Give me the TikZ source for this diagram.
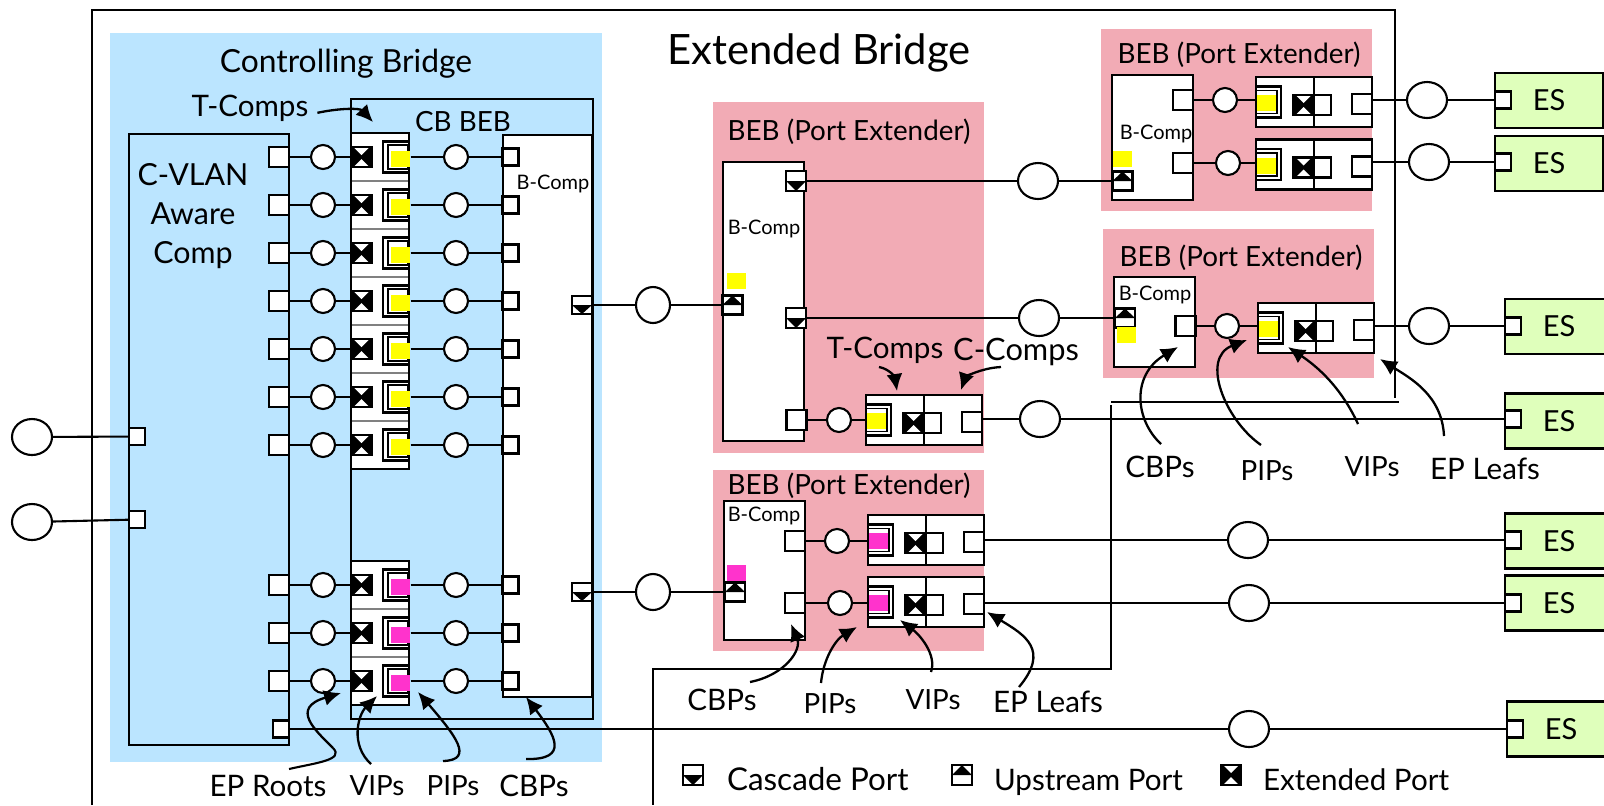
\documentclass[tikz,border=0pt]{standalone}
\usepackage{fontspec}
\setmainfont{Lato}
\usepackage{xcolor}
\usetikzlibrary{shapes,calc,arrows.meta}
\definecolor{cbblue}{HTML}{BBE5FF}
\definecolor{pepink}{HTML}{F2ABB5}
\definecolor{esgreen}{HTML}{DFFFBB}
\definecolor{pipyellow}{HTML}{FFFF00}
\definecolor{pipmag}{HTML}{FF33CC}
\tikzset{
    every path/.style={line width=1.05pt},
    portbox/.style={rectangle,draw,fill=white,minimum width=10pt,minimum height=10pt,inner sep=0pt},
    smallport/.style={portbox,minimum width=8pt,minimum height=8.5pt},
    extport/.style={rectangle,draw,fill=black,minimum width=10pt,minimum height=10pt,inner sep=0pt,
        path picture={\fill[white] ([xshift=1pt]path picture bounding box.north west) -- ([xshift=-1pt]path picture bounding box.north east) -- ([yshift=1pt]path picture bounding box.center) -- cycle;
            \fill[white] ([xshift=1pt]path picture bounding box.south west) -- ([xshift=-1pt]path picture bounding box.south east) -- ([yshift=-1pt]path picture bounding box.center) -- cycle;}},
    casport/.style={portbox,path picture={\fill[black] (path picture bounding box.west) -- (path picture bounding box.east) -- (path picture bounding box.south) -- cycle;}},
    upport/.style={portbox,path picture={\fill[black] (path picture bounding box.west) -- (path picture bounding box.east) -- (path picture bounding box.north) -- cycle;}},
    ring/.style={circle,draw,fill=white,minimum size=12pt,inner sep=0pt},
    bigring/.style={ellipse,draw,fill=white,minimum width=20pt,minimum height=18pt,inner sep=0pt},
    pipmark/.style={rectangle,fill=#1,minimum width=9.5pt,minimum height=8pt,inner sep=0pt},
    esbox/.style={rectangle,draw,fill=esgreen,minimum width=54pt,minimum height=27.5pt,inner sep=0pt,font=\fontsize{14.5}{14.5}\selectfont},
    lbl/.style={inner sep=0pt,yshift=-0.9pt,font=\fontsize{13.9}{13.9}\selectfont},
    lblwide/.style={inner sep=0pt,yshift=-0.9pt,font=\fontsize{14.8}{14.8}\selectfont},
    tinylbl/.style={inner sep=0pt,font=\fontsize{10}{10}\selectfont},
    callout/.style={-{Latex[length=8.5pt,width=8pt]},line width=1.15pt},
}
\begin{document}
\begin{tikzpicture}[x=0.5pt,y=-0.5pt]
    \useasboundingbox (0,0) rectangle (1604,805);

    % Extended Bridge outline
    \draw (92,805) -- (92,10) -- (1395,10) -- (1395,398);
    \draw (1111,402) -- (1399,402);
    \draw[line width=1.4pt] (1111,405) -- (1111,669) -- (653,669) -- (653,805);
    \node[inner sep=0pt,font=\fontsize{20.9}{20.9}\selectfont] (title) at (819,53) {Extended Bridge};

    % Controlling Bridge
    \fill[cbblue] (110,33) rectangle (602,762);
    \node[lbl,font=\fontsize{15.9}{15.9}\selectfont] (cbtitle) at (346,62) {Controlling Bridge};
    \draw[line width=1.3pt] (129,134) rectangle (289,745); % C-VLAN comp
    \draw[line width=1.3pt] (351,99) rectangle (593,719); % CB BEB
    \draw[line width=1.3pt,fill=white] (503,135) rectangle (592,697); % B-Comp
    \node[lbl] (cbbeb) at (463,120) {CB BEB};
    \node[tinylbl] (cbcomp) at (553,184) {B-Comp};
    \node[align=center,inner sep=0pt,font=\fontsize{15.2}{19.7}\selectfont] (cvlan) at (193,216) {C-VLAN\\Aware\\Comp};
    \node[lblwide] (tcomps) at (250,107) {T-Comps};

    % T-Comp rows
    \fill[white] (351,133) rectangle (409,469);
    \fill[white] (351,561) rectangle (409,705);
    \foreach \row in {181,229,277,325,373,421,609,657} {
        \draw[gray,line width=0.9pt] (351,\row) -- (409,\row);
    }
    \draw[line width=1.3pt] (351,133) rectangle (409,469);
    \draw[line width=1.3pt] (351,561) rectangle (409,705);
    \foreach \row/\pip in {157/pipyellow,205/pipyellow,253/pipyellow,301/pipyellow,349/pipyellow,397/pipyellow,445/pipyellow,585/pipmag,633/pipmag,681/pipmag} {
        \node[portbox] (cv\row) at (279,\row) {};
        \node[ring] (rl\row) at (323,\row) {};
        \node[extport] (ext\row) at (361.5,\row) {};
        \node[portbox,minimum width=13pt,minimum height=15.5pt] (vo\row) at (396,\row) {};
        \node[portbox,minimum width=10pt,minimum height=12pt] (vi\row) at (398,\row) {};
        \node[pipmark=\pip] (pip\row) at (400,\row+2) {};
        \node[ring] (rr\row) at (456,\row) {};
        \node[smallport] (cb\row) at (510.5,\row) {};
        \draw (cv\row) -- (rl\row) -- (ext\row);
        \draw (pip\row.east |- rr\row) -- (rr\row) -- (cb\row);
    }

    % CB cascade ports and the ports left of the C-VLAN comp
    \node[casport,minimum height=9pt] (cas1) at (582,305) {};
    \node[casport,minimum height=9pt] (cas2) at (582,592) {};
    \node[smallport] (lp1) at (137,436.5) {};
    \node[smallport] (lp2) at (137,519.5) {};
    \node[bigring] (lr1) at (32,437) {};
    \node[bigring] (lr2) at (32,522) {};
    \draw (lr1) -- (lp1);
    \draw (lr2) -- (lp2);

    % BEB (Port Extender) backgrounds
    \fill[pepink] (1101,29) rectangle (1372,211);
    \fill[pepink] (1103,229) rectangle (1374,378);
    \fill[pepink] (713,102) rectangle (984,453);
    \fill[pepink] (713,470) rectangle (984,651);
    \node[lbl] (beba) at (1239,53) {BEB (Port Extender)};
    \node[lbl] (bebb) at (1241,256) {BEB (Port Extender)};
    \node[lbl] (bebc) at (849,130) {BEB (Port Extender)};
    \node[lbl] (bebd) at (849,484) {BEB (Port Extender)};

    % B-Comps of the port extenders
    \draw[fill=white] (1112,75) rectangle (1193,200);
    \draw[fill=white] (1114,277) rectangle (1195,367);
    \draw[fill=white] (723,162) rectangle (804,441);
    \draw[fill=white] (724,501) rectangle (805,640);
    \node[tinylbl] (bca) at (1156,134) {B-Comp};
    \node[tinylbl] (bcb) at (1155,295) {B-Comp};
    \node[tinylbl] (bcc) at (764,229) {B-Comp};
    \node[tinylbl] (bcd) at (764,516) {B-Comp};

    % T/C boxes
    \foreach \bname/\bx/\by/\pip in {a/1256/102/pipyellow,b/1256/164.5/pipyellow,c/1258/328/pipyellow,d/866/420/pipyellow,e/868/540/pipmag,f/868/602/pipmag} {
        \draw[fill=white] (\bx,\by-25) rectangle (\bx+116,\by+25);
        \draw (\bx+58,\by-25) -- (\bx+58,\by+25);
        \node[portbox,minimum width=12.5pt,minimum height=15.5pt] (vo\bname) at (\bx+12.5,\by) {};
        \node[portbox,minimum width=10.5pt,minimum height=11.5pt,line width=0.7pt] (vi\bname) at (\bx+10.5,\by) {};
        \node[pipmark=\pip] (pip\bname) at (\bx+10,\by+1) {};
        \node[extport] (ext\bname) at (\bx+47.5,\by+3) {};
        \node[portbox,minimum width=8.5pt] (cc\bname) at (\bx+66.5,\by+3) {};
        \node[portbox] (ep\bname) at (\bx+106,\by+2) {};
    }

    % B-Comp ports
    \node[portbox] (pa) at (1183,100) {};
    \node[portbox] (pb) at (1183,163) {};
    \node[portbox] (pc) at (1185.5,326) {};
    \node[portbox] (pd) at (796.5,420) {};
    \node[portbox] (pe) at (795,541) {};
    \node[portbox] (pf) at (795,603) {};
    \node[ring] (ra) at (1225,100) {};
    \node[ring] (rb) at (1228,163) {};
    \node[ring] (rc) at (1227,326) {};
    \node[ring] (rd) at (839,420) {};
    \node[ring] (re) at (837,541) {};
    \node[ring] (rf) at (840,603) {};
    \draw (pa) -- (ra) -- (voa.west |- ra);
    \draw (pb) -- (rb) -- (vob.west |- rb);
    \draw (pc) -- (rc) -- (voc.west |- rc);
    \draw (pd) -- (rd) -- (vod.west |- rd);
    \draw (pe) -- (re) -- (voe.west |- re);
    \draw (pf) -- (rf) -- (vof.west |- rf);

    % cascade and upstream ports
    \node[casport] (casc) at (796,181) {};
    \node[casport] (casd) at (796,318) {};
    \node[upport,minimum height=9.5pt] (upa) at (1122.5,181) {};
    \node[upport,minimum height=9.5pt] (upb) at (1125,318) {};
    \node[upport,minimum height=9.5pt] (upc) at (732.5,305) {};
    \node[upport,minimum height=9.5pt] (upd) at (735,592) {};
    \node[pipmark=pipyellow] (mka) at (1122,159) {};
    \node[pipmark=pipyellow] (mkb) at (1126,335) {};
    \node[pipmark=pipyellow] (mkc) at (736,281) {};
    \node[pipmark=pipmag] (mkd) at (736,573) {};
    \node[bigring] (rca) at (1038,181) {};
    \node[bigring] (rcb) at (1039,318) {};
    \node[bigring,minimum width=17pt] (rua) at (653,305) {};
    \node[bigring,minimum width=17pt] (rub) at (653,592) {};
    \draw (casc) -- (rca) -- (upa);
    \draw (casd) -- (rcb) -- (upb);
    \draw (cas1) -- (rua) -- (upc);
    \draw (cas2) -- (rub) -- (upd);

    % End stations
    \node[esbox] (esa) at (1549,100.5) {ES};
    \node[esbox] (esb) at (1549,163.5) {ES};
    \node[esbox] (esc) at (1559,326.5) {ES};
    \node[esbox] (esd) at (1559,421) {ES};
    \node[esbox] (ese) at (1559,541) {ES};
    \node[esbox] (esf) at (1559,603) {ES};
    \node[esbox] (esg) at (1561,729) {ES};
    \node[smallport] (sa) at (1503,100) {};
    \node[smallport] (sb) at (1503,162) {};
    \node[smallport] (sc) at (1513,326) {};
    \node[smallport] (sd) at (1513,419) {};
    \node[smallport] (se) at (1513,540) {};
    \node[smallport] (sf) at (1513,603) {};
    \node[smallport] (sg) at (1515,729) {};
    \node[bigring] (oa) at (1427,100) {};
    \node[bigring] (ob) at (1429,162) {};
    \node[bigring] (oc) at (1429,326) {};
    \node[bigring] (od) at (1040,419) {};
    \node[bigring] (oe) at (1248,540) {};
    \node[bigring] (of) at (1249,603) {};
    \node[bigring] (og) at (1249,729) {};
    \node[portbox,minimum width=8pt,minimum height=8.5pt] (cvb) at (281,729) {};
    \draw (epa.east |- oa) -- (oa) -- (sa);
    \draw (epb.east |- ob) -- (ob) -- (sb);
    \draw (epc.east |- oc) -- (oc) -- (sc);
    \draw (epd.east |- od) -- (od) -- (sd);
    \draw (epe.east |- oe) -- (oe) -- (se);
    \draw (epf.east |- of) -- (of) -- (sf);
    \draw[line width=1.4pt] (cvb) -- (og) -- (sg);

    % Labels under the Controlling Bridge
    \node[lblwide] (eproots) at (268,784) {EP Roots};
    \node[lbl] (vipsa) at (377,784) {VIPs};
    \node[lbl] (pipsa) at (453,784) {PIPs};
    \node[lblwide] (cbpsa) at (534,784) {CBPs};
    \coordinate (mroots) at (333,748);
    \coordinate (teproots) at (341,693);
    \coordinate (tvipsa) at (377,696);
    \coordinate (tpipsa) at (418,692);
    \coordinate (tcbpsa) at (526,697);
    \coordinate (ttcomps) at (373,122);
    \draw (289,769) .. controls (315,763) and (345,760) .. (mroots);
    \draw[callout] (mroots) .. controls (315,730) and (290,708) .. (teproots);
    \draw[callout] (371,764) .. controls (350,745) and (358,715) .. (tvipsa);
    \draw[callout] (443,761) .. controls (475,760) and (455,735) .. (tpipsa);
    \draw[callout] (526,759) .. controls (570,760) and (555,735) .. (tcbpsa);
    \draw[callout] (tcomps.east) ++(8,4) .. controls (340,108) and (360,108) .. (ttcomps);

    % Labels of the lower extender
    \node[lblwide] (cbpsb) at (722,698) {CBPs};
    \node[lbl] (pipsb) at (830,702) {PIPs};
    \node[lbl] (vipsb) at (933,698) {VIPs};
    \node[lblwide] (leafsb) at (1048,700) {EP Leafs};
    \coordinate (tcbpsb) at (791,624);
    \coordinate (tpipsb) at (857,627);
    \coordinate (tvipsb) at (900,620);
    \coordinate (tleafsb) at (987,612);
    \draw[callout] (750,682) .. controls (785,675) and (802,650) .. (tcbpsb);
    \draw[callout] (821,683) .. controls (823,660) and (835,640) .. (tpipsb);
    \draw[callout] (931,672) .. controls (937,655) and (920,635) .. (tvipsb);
    \draw[callout] (1019,687) .. controls (1050,650) and (1025,635) .. (tleafsb);

    % Labels of the middle extender
    \node[lblwide] (tcompsc) at (885,349) {T-Comps};
    \node[lbl,font=\fontsize{15.4}{15.4}\selectfont] (ccompsc) at (1016,350) {C-Comps};
    \coordinate (ttcompsc) at (897,391);
    \coordinate (tccompsc) at (961,390);
    \draw[callout] (879,367) .. controls (890,369) and (895,378) .. (ttcompsc);
    \draw[callout] (1001,367) .. controls (980,368) and (965,378) .. (tccompsc);

    % Labels of the right extender
    \node[lblwide] (cbpsc) at (1160,465) {CBPs};
    \node[lbl] (pipsc) at (1267,469) {PIPs};
    \node[lbl] (vipsc) at (1372,465) {VIPs};
    \node[lblwide] (leafsc) at (1485,467) {EP Leafs};
    \coordinate (tcbpsc) at (1178,347);
    \coordinate (tpipsc) at (1247,340);
    \coordinate (tvipsc) at (1288,347);
    \coordinate (tleafsc) at (1380,359);
    \draw[callout] (1161,444) .. controls (1135,420) and (1131,375) .. (tcbpsc);
    \draw[callout] (1261,445) .. controls (1225,420) and (1200,358) .. (tpipsc);
    \draw[callout] (1358,424) .. controls (1340,385) and (1315,365) .. (tvipsc);
    \draw[callout] (1444,436) .. controls (1442,395) and (1410,378) .. (tleafsc);

    % Legend
    \node[casport] (legcas) at (693,775) {};
    \node[upport] (legup) at (962,775) {};
    \node[extport] (legext) at (1231,775) {};
    \node[inner sep=0pt,anchor=base west,font=\fontsize{15.7}{15.7}\selectfont] (txtcas) at (726,790) {Cascade Port};
    \node[inner sep=0pt,anchor=base west,font=\fontsize{14.8}{14.8}\selectfont] (txtup) at (993,790) {Upstream Port};
    \node[inner sep=0pt,anchor=base west,font=\fontsize{14.8}{14.8}\selectfont] (txtext) at (1262,790) {Extended Port};
\end{tikzpicture}
\end{document}
